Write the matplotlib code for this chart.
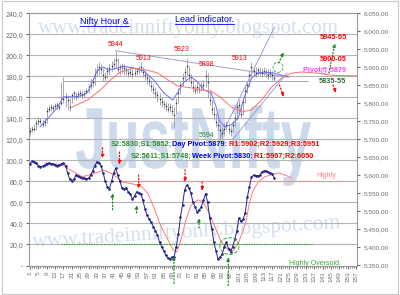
import matplotlib
matplotlib.use("Agg")
import matplotlib.pyplot as plt
from matplotlib.patches import Ellipse, Rectangle, PathPatch
from matplotlib.lines import Line2D
from matplotlib.textpath import TextPath
from matplotlib.font_manager import FontProperties
from matplotlib.transforms import Affine2D

plt.rcParams['font.family'] = ['Liberation Sans', 'DejaVu Sans']

# ---- hourly Nifty bars (price axis, right) ----
close = [5722, 5730, 5728, 5745, 5752, 5750, 5742, 5748, 5778, 5785,
         5790, 5788, 5792, 5795, 5790, 5800, 5812, 5818, 5808, 5790,
         5822, 5828, 5820, 5825, 5830, 5822, 5826, 5835, 5845, 5852,
         5858, 5880, 5892, 5900, 5895, 5880, 5872, 5890, 5898, 5905,
         5910, 5920, 5895, 5900, 5905, 5898, 5892, 5885, 5888, 5882,
         5885, 5890, 5895, 5900, 5888, 5880, 5870, 5862, 5848, 5840,
         5830, 5822, 5812, 5805, 5798, 5792, 5785, 5790, 5780, 5768,
         5800, 5830, 5850, 5870, 5888, 5905, 5880, 5860, 5845, 5838,
         5845, 5840, 5848, 5852, 5875, 5860, 5810, 5785, 5770, 5748,
         5740, 5725, 5718, 5730, 5740, 5728, 5722, 5740, 5760, 5790,
         5795, 5770, 5805, 5835, 5850, 5880, 5900, 5890, 5885, 5892,
         5888, 5885, 5890, 5886, 5880, 5884, 5878, 5870]
high = [5735, 5738, 5742, 5755, 5762, 5758, 5755, 5760, 5790, 5795,
        5798, 5796, 5800, 5805, 5802, 5858, 5873, 5830, 5822, 5815,
        5830, 5838, 5832, 5835, 5838, 5835, 5836, 5842, 5852, 5868,
        5870, 5898, 5910, 5915, 5908, 5898, 5888, 5902, 5910, 5918,
        5925, 5946, 5925, 5910, 5912, 5908, 5902, 5895, 5898, 5895,
        5895, 5900, 5905, 5914, 5902, 5892, 5885, 5875, 5865, 5852,
        5845, 5835, 5828, 5818, 5810, 5805, 5800, 5802, 5795, 5790,
        5815, 5842, 5862, 5885, 5902, 5925, 5905, 5882, 5865, 5852,
        5858, 5852, 5860, 5865, 5892, 5885, 5835, 5808, 5790, 5772,
        5755, 5742, 5735, 5745, 5752, 5745, 5738, 5752, 5772, 5805,
        5808, 5798, 5815, 5848, 5862, 5892, 5914, 5905, 5900, 5902,
        5900, 5898, 5900, 5898, 5895, 5895, 5890, 5885]
low = [5712, 5720, 5722, 5725, 5740, 5742, 5735, 5738, 5745, 5775,
       5780, 5778, 5783, 5785, 5782, 5795, 5800, 5790, 5782, 5778,
       5800, 5812, 5808, 5815, 5818, 5815, 5818, 5825, 5830, 5840,
       5845, 5850, 5875, 5880, 5882, 5862, 5860, 5870, 5880, 5890,
       5895, 5898, 5885, 5880, 5885, 5880, 5878, 5872, 5875, 5870,
       5875, 5878, 5882, 5888, 5872, 5865, 5855, 5848, 5835, 5825,
       5815, 5805, 5795, 5790, 5785, 5780, 5775, 5775, 5768, 5735,
       5770, 5800, 5825, 5848, 5865, 5880, 5862, 5848, 5832, 5825,
       5830, 5828, 5835, 5838, 5845, 5815, 5795, 5770, 5755, 5735,
       5722, 5699, 5705, 5712, 5725, 5715, 5710, 5720, 5738, 5755,
       5780, 5762, 5768, 5800, 5830, 5845, 5875, 5878, 5872, 5878,
       5875, 5874, 5878, 5874, 5868, 5870, 5865, 5862]

# moving averages drawn over the bars (bar number, price)
fast_ma_x = [5.8, 14, 16.9, 23.6, 28.4, 30.8, 33.3, 36.1, 38.6, 42.9, 45.8,
             50.6, 55.4, 60.2, 65, 69.4, 72.3, 74.7, 78.1, 81.4, 84.3, 87.7,
             90.1, 91.5, 94, 97.3, 100.7, 103.6, 107, 110.3, 113.2, 118, 124.8]
fast_ma = [5735, 5787, 5818, 5818, 5829, 5859, 5892, 5901, 5892, 5898, 5903,
           5898, 5890, 5865, 5829, 5809, 5837, 5859, 5873, 5859, 5837, 5829,
           5790, 5754, 5735, 5740, 5760, 5818, 5870, 5884, 5887, 5884, 5873]
slow_ma_x = [21.2, 28.4, 34.7, 39.5, 44.3, 50.6, 57.3, 62.2, 67, 71.8, 78.1,
             82.9, 87.7, 92.5, 97.3, 102.1, 107, 111.8, 116.6, 121.4, 126.2,
             131, 138.3, 145.5, 157.5]
slow_ma = [5790, 5809, 5837, 5865, 5887, 5898, 5892, 5884, 5865, 5848, 5843,
           5837, 5834, 5815, 5790, 5776, 5782, 5809, 5845, 5870, 5884,
           5887, 5884, 5878, 5876]

# ---- lead indicator (left axis) ----
lead = [97, 99, 98.5, 98, 95, 94, 94.5, 95.5, 97, 97.5,
        97, 96.5, 96, 95, 95.5, 96.5, 97.5, 95, 88, 82,
        80.5, 82, 86, 85, 84, 83.5, 83, 82.5, 83, 86,
        90, 95, 98.5, 98, 95, 88, 80, 75, 73, 80,
        88, 92.5, 86, 80, 74, 73, 74, 70, 68, 63,
        66, 70, 69, 68.5, 62, 54, 48, 44, 41, 37,
        33, 29, 22, 18, 14, 10, 7, 6.5, 8, 8.5,
        18, 30, 46, 58, 72, 76.5, 74, 69, 60, 56,
        51, 53, 56, 62, 68.5, 60, 45, 35, 22, 14,
        6, 8, 11, 18, 22, 16, 13, 18, 25, 33,
        45, 42, 44, 50, 65, 75, 84, 86, 85.5, 85.5,
        86, 89, 90, 90, 88.5, 88, 87, 83]
lead_ma_x = [8.2, 16.4, 20.2, 26, 32.3, 36.1, 40.5, 45.3, 50.1, 54, 57.3,
             60.2, 63.6, 67, 69.4, 71.3, 73.2, 75.6, 78.1, 81.4, 83.8, 86.7,
             90.1, 92.5, 95.9, 98.3, 100.7, 103.1, 104.5, 106, 107.9, 110.3,
             113.2, 117.5, 120.4, 122.8, 126.2]
lead_ma = [97.6, 95.7, 91, 84.3, 88, 91, 87, 79.5, 77.6, 75.7, 69,
           55.7, 37.6, 24.3, 14.8, 12.9, 24.3, 43.3, 57.6, 62.4, 60.5, 50,
           33.8, 22.4, 14.8, 13.8, 21.4, 33.8, 43.3, 59.5, 71.9, 79.5,
           84.3, 87.1, 88, 86.2, 83.3]

left_ticks = list(range(0, 241, 20))
right_ticks = list(range(5350, 6051, 50))
x_ticks = list(range(1, 158, 4))

# signal arrows on the indicator: (bar, from, to)
sell_arrows = [(35.7, 112, 102), (43.8, 108, 96), (53, 86, 73),
               (75.2, 91, 79.5), (83.4, 79.5, 71)]
buy_arrows = [(40.5, 53, 69), (52, 50, 57.6), (81.9, 35.7, 45.2),
              (69.9, -17, 9), (95.9, -19, 8)]

# labels on the price panel: (bar, price, text, colour)
price_labels = [(42, 5964, "5944", "red"), (55.4, 5925, "5913", "red"),
                (73.7, 5950, "5923", "red"), (85.3, 5909, "5898", "red"),
                (101.2, 5925, "5913", "red"), (85.3, 5710, "5694", "#2e8b2e")]

GRID = "#b4b4b4"
TICK = "#6e6e6e"
WATER = "#d4dfee"
WATER_BIG = "#cddaec"


def price_fmt(v):
    s = f"{v:,.2f}"
    return s.replace(",", " ").replace(".", ",").replace(" ", ".")


fig = plt.figure(figsize=(4, 2.95), dpi=100)
fig.patches.append(Rectangle((0.004, 0.005), 0.992, 0.99, transform=fig.transFigure,
                             fill=False, ec="#c8c8c8", lw=0.8))

ax = fig.add_axes([0.0725, 0.1, 0.82, 0.855])
ax.set_xlim(0.5, 157.5)
ax.set_ylim(0, 240)
ax.set_yticks(left_ticks)
ax.set_yticklabels(["-"] + [f"{v},0" for v in left_ticks[1:]])
ax.set_xticks(x_ticks)
ax.set_xticklabels([str(v) for v in x_ticks], rotation=90)
ax.set_xticks(range(1, 158), minor=True)
ax.tick_params(axis="x", which="major", length=2.5, labelsize=4.6, colors=TICK, pad=1.5)
ax.tick_params(axis="x", which="minor", length=1.5, color=TICK)
ax.tick_params(axis="y", length=2, labelsize=5, colors=TICK, pad=2)
ax.grid(axis="y", color=GRID, lw=0.8, zorder=1)
ax.set_axisbelow(True)
for s in ax.spines.values():
    s.set_color("#9a9a9a")
    s.set_linewidth(0.8)

# watermarks
ax.text(0.485, 0.94, "www.tradeinniftyonly.blogspot.com", transform=ax.transAxes,
        ha="center", va="center", fontsize=15, family="Liberation Serif",
        color=WATER, zorder=0.5)
ax.text(0.48, 0.13, "www.tradeinniftyonly.blogspot.com", transform=ax.transAxes,
        ha="center", va="center", fontsize=15.5, family="Liberation Serif",
        color=WATER, rotation=3.5, zorder=0.5)
tp = TextPath((0, 0), "JustNifty", size=10,
              prop=FontProperties(family="Liberation Sans", weight="bold"))
ext = tp.get_extents()
sx = 235 / ext.width
sy = 62 / 7.16
ax.add_patch(PathPatch(tp, transform=Affine2D().translate(-ext.x0, 0).scale(sx, sy).translate(76, 295 - 168),
                       fc=WATER_BIG, ec="none", zorder=0.5))

# indicator panel
xs = range(1, len(lead) + 1)
ax.plot(lead_ma_x, lead_ma, color="#ff7a7a", lw=0.7, zorder=3)
ax.plot(xs, lead, color="#22228a", lw=0.7, marker=".", ms=1.7, zorder=4)
ax.hlines(80, 44, 151, color="#ff8a8a", lw=0.9, ls=(0, (1, 1)), zorder=3)
ax.hlines(20, 16, 136, color="#33aa33", lw=0.9, ls=(0, (1, 1)), zorder=3)
ax.text(138, 82, "Highly", color="#ff8080", fontsize=5, ha="left", va="bottom")
ax.text(125, -1, "Highly Oversold.", color="#33aa33", fontsize=5, ha="left", va="bottom")
ax.add_patch(Ellipse((96.4, 18.5), 9.2, 16, fill=False, ec="#33aa33", lw=0.7, ls="--", zorder=5))
for bx, y0, y1 in sell_arrows:
    ax.annotate("", xy=(bx, y1), xytext=(bx, y0), annotation_clip=False,
                arrowprops=dict(arrowstyle="-|>", color="red", lw=0.9, ls=":",
                                mutation_scale=5, shrinkA=0, shrinkB=0), zorder=6)
for bx, y0, y1 in buy_arrows:
    ax.annotate("", xy=(bx, y1), xytext=(bx, y0), annotation_clip=False,
                arrowprops=dict(arrowstyle="-|>", color="#1e8c1e", lw=0.9, ls=":",
                                mutation_scale=5, shrinkA=0, shrinkB=0), zorder=6)

# price panel
ax2 = ax.twinx()
ax2.set_ylim(5350, 6050)
ax2.set_yticks(right_ticks)
ax2.set_yticklabels([price_fmt(v) for v in right_ticks])
ax2.tick_params(axis="y", length=2, labelsize=4.6, colors=TICK, pad=3)
for s in ax2.spines.values():
    s.set_visible(False)

bx = range(1, len(close) + 1)
ax2.vlines(bx, low, high, color="#9a9a9a", lw=0.6, zorder=3)
ax2.plot(bx, close, ls="none", marker="s", ms=1.0, mew=0, color="#2a2a60", zorder=4)
ax2.plot(fast_ma_x, fast_ma, color="#6b6bff", lw=0.7, zorder=5)
ax2.plot(slow_ma_x, slow_ma, color="#ff6f6f", lw=0.7, zorder=5)

# trend lines
ax2.plot([42, 124], [5946, 5873], color="#a0a0c8", lw=0.7, zorder=2)
ax2.hlines(5862, 17, 134, color="#a0a8c8", lw=0.7, zorder=2)
ax2.plot([92, 118], [5704, 6012], color="#9090e0", lw=0.6, zorder=2)
ax2.plot([98, 124], [5700, 5884], color="#9090e0", lw=0.6, zorder=2)

for bxp, v, t, c in price_labels:
    ax2.text(bxp, v, t, color=c, fontsize=5, ha="center", va="center", zorder=6)
ax2.text(146, 5984, "5945-65", color="red", fontsize=5.3, fontweight="bold", ha="center", va="center")
ax2.text(146, 5922, "5900-05", color="red", fontsize=5.3, fontweight="bold", ha="center", va="center")
ax2.text(142, 5893, "Pivot@ 5879", color="#ff44ff", fontsize=5.2, fontweight="bold", ha="center", va="center")
ax2.text(145.5, 5862, "5835-55", color="#2e6b2e", fontsize=5.3, fontweight="bold", ha="center", va="center")

for (x0, v0, x1, v1, c) in [(120, 5912, 122.4, 5942, "#1e8c1e"), (120.4, 5851, 122.4, 5818, "red"),
                            (144, 5884, 147, 5967, "#1e8c1e"), (146, 5851, 147.4, 5829, "red")]:
    ax2.annotate("", xy=(x1, v1), xytext=(x0, v0),
                 arrowprops=dict(arrowstyle="-|>", color=c, lw=0.9, ls=":",
                                 mutation_scale=5, shrinkA=0, shrinkB=0), zorder=6)
ax2.add_patch(Ellipse((119.7, 5900), 4.8, 28, fill=False, ec="#44aa44", lw=0.6, ls="--", zorder=6))


# pivot lines (multi-coloured)
def colour_line(x, v, parts, size=5.3):
    t = ax2.text(x, v, parts[0][0], color=parts[0][1], fontsize=size, fontweight="bold",
                 ha="left", va="center", zorder=7)
    for s, c in parts[1:]:
        t = ax2.annotate(s, xycoords=t, xy=(1, 0), va="bottom", ha="left", color=c,
                         fontsize=size, fontweight="bold", zorder=7)


colour_line(39.5, 5685, [("S2:5830;S1:5852;", "#2e8b2e"), ("Day Pivot:5879:", "#0000ff"),
                         (" R1:5902;R2:5929;R3:5951", "red")])
colour_line(49.2, 5652, [("S2:5611;S1:5748;", "#2e8b2e"), ("Week Pivot:5830:", "#0000ff"),
                         (" R1:5967;R2:6050", "red")])

# titles
t1 = fig.text(80 / 400, 1 - 22 / 295, "Nifty Hour &", color="#0000ff", fontsize=6.5, ha="left", va="center")
t2 = fig.text(175 / 400, 1 - 20 / 295, "Lead indicator.", color="#0000ff", fontsize=6.5, ha="left", va="center")
fig.canvas.draw()
r = fig.canvas.get_renderer()
for t in (t1, t2):
    bb = t.get_window_extent(r).transformed(fig.transFigure.inverted())
    fig.add_artist(Line2D([bb.x0, bb.x1], [bb.y0 + 0.002, bb.y0 + 0.002], color="#0000ff", lw=0.6))

fig.savefig("out.png", dpi=100)
